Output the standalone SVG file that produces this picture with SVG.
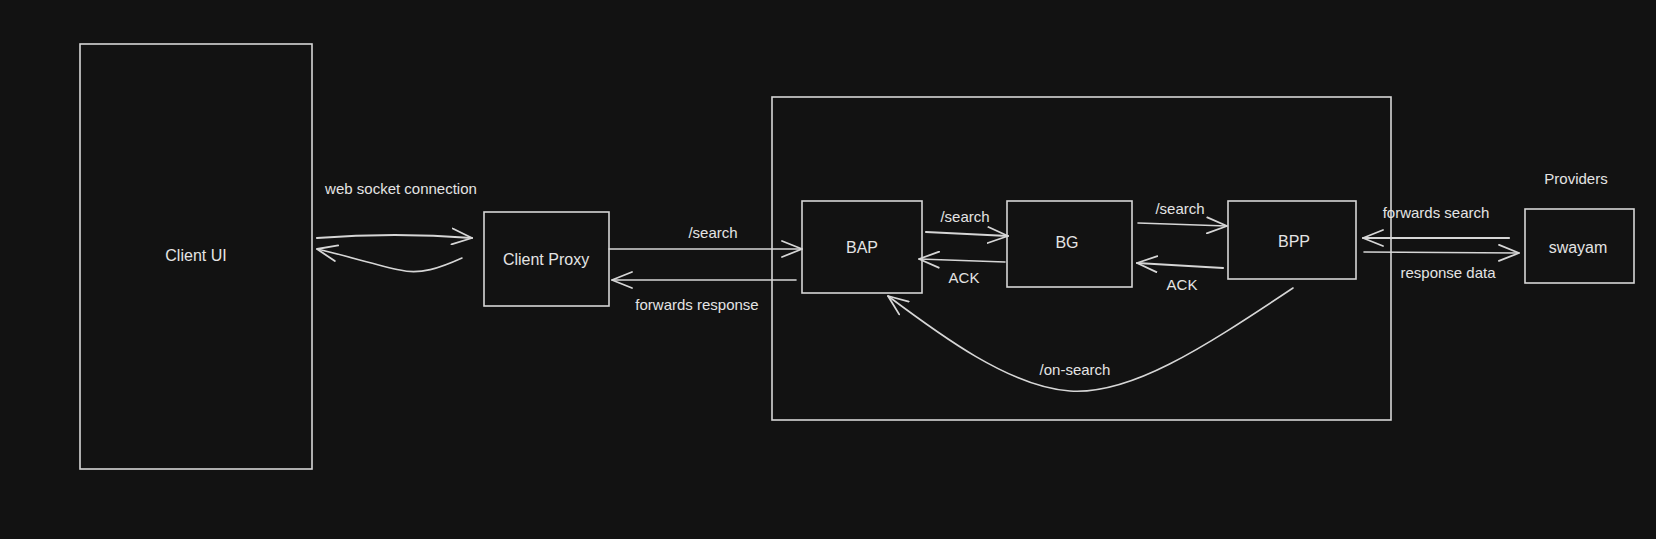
<svg xmlns="http://www.w3.org/2000/svg" width="1656" height="539" viewBox="0 0 1656 539">
  <style>
    .box { fill: none; stroke: #d6d6d6; stroke-width: 1.6; }
    .edge { fill: none; stroke: #d6d6d6; stroke-width: 1.6; stroke-linecap: round; marker-end: url(#arrow); }
    .thick { stroke-width: 2.2; }
    text { font-family: "Liberation Sans", Arial, sans-serif; fill: #e4e4e4; text-anchor: middle; dominant-baseline: central; }
    .node-label { font-size: 16px; }
    .edge-label { font-size: 15px; }
  </style>
  <defs>
    <marker id="arrow" markerUnits="userSpaceOnUse" viewBox="0 0 22 18" markerWidth="22" markerHeight="18" refX="21" refY="9" orient="auto">
      <path d="M1,1 L21,9 L1,17" fill="none" stroke="#d6d6d6" stroke-width="1.8" stroke-linecap="round" stroke-linejoin="round"/>
    </marker>
  </defs>
  <rect width="1656" height="539" fill="#121212"/>

  <g id="container">
    <rect class="box" x="772" y="97" width="619" height="323"/>
  </g>

  <g id="client-ui">
    <rect class="box" x="80" y="44" width="232" height="425"/>
    <text class="node-label" x="196" y="255">Client UI</text>
  </g>

  <g id="client-proxy">
    <rect class="box" x="484" y="212" width="125" height="94"/>
    <text class="node-label" x="546" y="259">Client Proxy</text>
  </g>

  <g id="bap">
    <rect class="box" x="802" y="201" width="120" height="92"/>
    <text class="node-label" x="862" y="247">BAP</text>
  </g>

  <g id="bg">
    <rect class="box" x="1007" y="201" width="125" height="86"/>
    <text class="node-label" x="1067" y="242">BG</text>
  </g>

  <g id="bpp">
    <rect class="box" x="1228" y="201" width="128" height="78"/>
    <text class="node-label" x="1294" y="241">BPP</text>
  </g>

  <g id="swayam">
    <rect class="box" x="1525" y="209" width="109" height="74"/>
    <text class="node-label" x="1578" y="247">swayam</text>
  </g>

  <g id="providers-label">
    <text class="edge-label" x="1576" y="178">Providers</text>
  </g>

  <g id="connectors">
    <path class="edge thick" d="M317,238 Q395,232 472,238"/>
    <path class="edge" d="M462,258 C440,268 420,275 400,270 C380,266 340,254 317,249"/>
    <path class="edge" d="M609,249 L802,249"/>
    <path class="edge" d="M796,280 L612,280"/>
    <path class="edge thick" d="M926,232 L1008,236"/>
    <path class="edge" d="M1005,262 L919,259"/>
    <path class="edge" d="M1138,223 L1227,226"/>
    <path class="edge thick" d="M1223,268 L1137,263"/>
    <path class="edge" d="M1293,288 C1200,350 1130,395 1070,391 C1010,387 940,335 888,296"/>
    <path class="edge thick" d="M1509,238 L1363,238"/>
    <path class="edge" d="M1364,252 L1519,253"/>

    <text class="edge-label" x="401" y="188">web socket connection</text>
    <text class="edge-label" x="713" y="232">/search</text>
    <text class="edge-label" x="697" y="304">forwards response</text>
    <text class="edge-label" x="965" y="216">/search</text>
    <text class="edge-label" x="964" y="277">ACK</text>
    <text class="edge-label" x="1180" y="208">/search</text>
    <text class="edge-label" x="1182" y="284">ACK</text>
    <text class="edge-label" x="1075" y="369">/on-search</text>
    <text class="edge-label" x="1436" y="212">forwards search</text>
    <text class="edge-label" x="1448" y="272">response data</text>
  </g>
</svg>
